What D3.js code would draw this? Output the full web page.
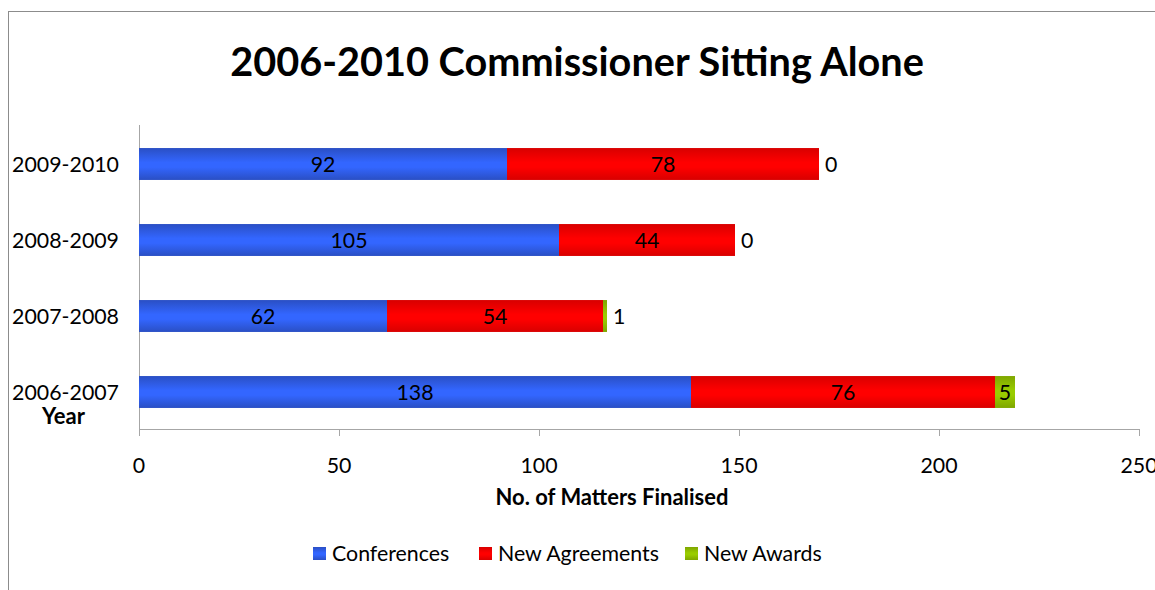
<!DOCTYPE html>
<html><head><meta charset="utf-8">
<script src="https://cdn.jsdelivr.net/npm/d3@7"></script>
<style>body{margin:0;background:#fff}svg{display:block}text{font-family:Lato,"Open Sans",sans-serif;fill:#000}</style>
</head><body>
<svg id="c" width="1155" height="590"></svg>
<script>
const categories = ["2009-2010","2008-2009","2007-2008","2006-2007"];
const seriesNames = ["Conferences","New Agreements","New Awards"];
const conferences = [92,105,62,138];
const newAgreements = [78,44,54,76];
const newAwards = [0,0,1,5];
const xTicks = [0,50,100,150,200,250];
const title = "2006-2010 Commissioner Sitting Alone";
const xTitle = "No. of Matters Finalised";
const yTitle = "Year";

const colors = {
  "Conferences": ["#2a4fc4","#3366ff"],
  "New Agreements": ["#d80000","#ff0000"],
  "New Awards": ["#7fa600","#99cc00"]
};

const svg = d3.select("#c");
const defs = svg.append("defs");
seriesNames.forEach((s,i)=>{
  const g = defs.append("linearGradient").attr("id","g"+i).attr("x1",0).attr("x2",0).attr("y1",0).attr("y2",1);
  g.append("stop").attr("offset","0%").attr("stop-color",colors[s][0]);
  g.append("stop").attr("offset","45%").attr("stop-color",colors[s][1]);
  g.append("stop").attr("offset","60%").attr("stop-color",colors[s][1]);
  g.append("stop").attr("offset","100%").attr("stop-color",colors[s][0]);
});

function fit(sel, target){
  const base = parseFloat(sel.style("font-size"));
  const w = sel.node().getComputedTextLength();
  sel.style("font-size", (base*target/w).toFixed(2)+"px");
  return base*target/w;
}

// measure base font size from a y label
const probe = svg.append("text").text(categories[0]).style("font-size","20px");
const FS = fit(probe,107);
probe.remove();

// chart border
svg.append("rect").attr("x",8.5).attr("y",11.5).attr("width",1170).attr("height",600)
  .attr("fill","none").attr("stroke","#8c8c8c").attr("stroke-width",1);

const x = d3.scaleLinear().domain([0,250]).range([139,1139]);
const y = d3.scaleBand().domain(categories).range([126,430]).paddingInner(0.58).paddingOuter(0.29);

const stackData = categories.map((c,i)=>({cat:c,"Conferences":conferences[i],"New Agreements":newAgreements[i],"New Awards":newAwards[i]}));
const stacked = d3.stack().keys(seriesNames)(stackData);

// axes lines
const ax = svg.append("g").attr("stroke","#a6a6a6").attr("stroke-width",1).attr("shape-rendering","crispEdges");
ax.append("line").attr("x1",x(0)).attr("x2",x(0)).attr("y1",125).attr("y2",436);
ax.append("line").attr("x1",x(0)).attr("x2",x(250)).attr("y1",429).attr("y2",429);
xTicks.forEach(t=>ax.append("line").attr("x1",x(t)).attr("x2",x(t)).attr("y1",429).attr("y2",436));

// bars
stacked.forEach((layer,si)=>{
  svg.append("g").selectAll("rect").data(layer).join("rect")
    .attr("x",d=>x(d[0])).attr("width",d=>x(d[1])-x(d[0]))
    .attr("y",d=>y(d.data.cat)).attr("height",y.bandwidth())
    .attr("fill","url(#g"+si+")");
});

// data labels
stacked.forEach((layer,si)=>{
  layer.forEach(d=>{
    const v = d[1]-d[0];
    const t = svg.append("text").text(v).style("font-size",FS+"px")
      .attr("y",y(d.data.cat)+y.bandwidth()/2).attr("dy","0.36em");
    const tw = t.node().getComputedTextLength();
    const segW = x(d[1])-x(d[0]);
    if (segW > tw+4) {
      t.attr("x",(x(d[0])+x(d[1]))/2).attr("text-anchor","middle");
    } else {
      t.attr("x",x(d[1])+6).attr("text-anchor","start");
    }
  });
});

// y tick labels
categories.forEach(c=>{
  svg.append("text").text(c).attr("x",119).attr("y",y(c)+y.bandwidth()/2).attr("dy","0.36em")
    .attr("text-anchor","end").style("font-size",FS+"px");
});
// x tick labels
xTicks.forEach(t=>{
  svg.append("text").text(t).attr("x",x(t)).attr("y",473).attr("text-anchor","middle").style("font-size",FS+"px");
});

// titles
const tt = svg.append("text").text(title).attr("x",577).attr("y",76).attr("text-anchor","middle")
  .style("font-weight","bold").style("font-size","38px");
fit(tt,694);
const xt = svg.append("text").text(xTitle).attr("x",612).attr("y",505).attr("text-anchor","middle")
  .style("font-weight","bold").style("font-size","19px");
fit(xt,233);
const yt = svg.append("text").text(yTitle).attr("x",63.5).attr("y",424).attr("text-anchor","middle")
  .style("font-weight","bold").style("font-size","19px");
fit(yt,43);

// legend
const legendX = [313,479,685];
seriesNames.forEach((s,i)=>{
  svg.append("rect").attr("x",legendX[i]).attr("y",547).attr("width",13).attr("height",13)
    .attr("fill","url(#g"+i+")");
  svg.append("text").text(s).attr("x",legendX[i]+19).attr("y",561).style("font-size",FS+"px");
});
</script>
</body></html>
